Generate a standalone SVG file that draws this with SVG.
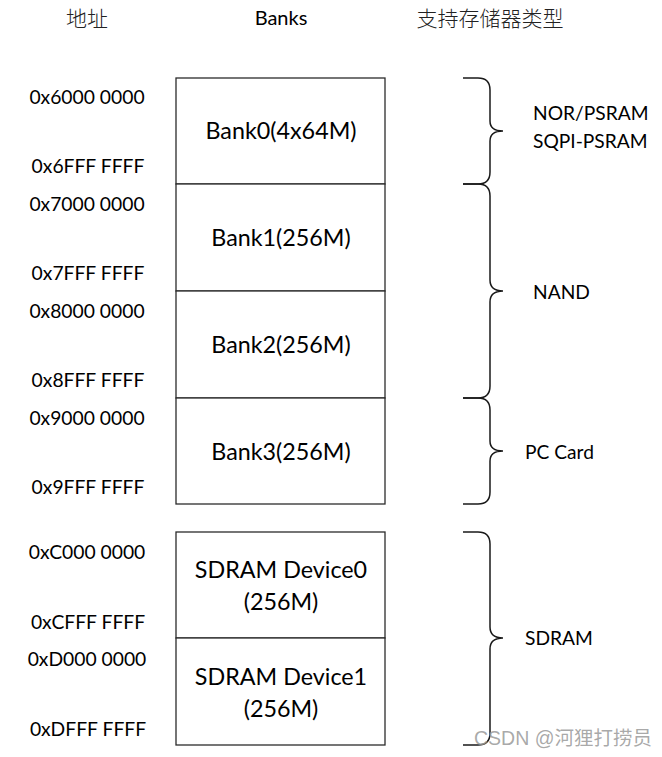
<svg xmlns="http://www.w3.org/2000/svg" width="662" height="757" viewBox="0 0 662 757">
<style>
.bg{fill:#ffffff}
.box{fill:#ffffff;stroke:#2b2b2b;stroke-width:1.3}
.brace{fill:none;stroke:#1a1a1a;stroke-width:1.5}
.addr{font-family:Lato,"Liberation Sans",sans-serif;font-size:19.3px;fill:#000;text-anchor:middle}
.lbl{font-family:Lato,"Liberation Sans",sans-serif;font-size:23.3px;fill:#000;text-anchor:middle}
.typ{font-family:Lato,"Liberation Sans",sans-serif;font-size:19.2px;fill:#000}
.hdr{font-family:Lato,"Liberation Sans",sans-serif;font-size:20px;fill:#000;text-anchor:middle}
.cjk{font-family:"Noto Sans CJK SC",sans-serif;font-size:21px;font-weight:300;fill:#222;text-anchor:middle}
.wm{font-family:"Liberation Sans","Noto Sans CJK SC",sans-serif;font-size:19.5px;fill:#9a9a9a;fill-opacity:0.85}
</style>
<rect class="bg" x="0" y="0" width="662" height="757"/>
<g id="headers">
<text class="cjk" x="87" y="26">地址</text>
<text class="hdr" x="281" y="25">Banks</text>
<text class="cjk" x="490" y="26">支持存储器类型</text>
</g>
<g id="addresses">
<text class="addr" x="87" y="104">0x6000 0000</text>
<text class="addr" x="88" y="173">0x6FFF FFFF</text>
<text class="addr" x="87" y="211">0x7000 0000</text>
<text class="addr" x="88" y="280">0x7FFF FFFF</text>
<text class="addr" x="87" y="318">0x8000 0000</text>
<text class="addr" x="88" y="387">0x8FFF FFFF</text>
<text class="addr" x="87" y="425">0x9000 0000</text>
<text class="addr" x="88" y="494">0x9FFF FFFF</text>
<text class="addr" x="87" y="559">0xC000 0000</text>
<text class="addr" x="88" y="629">0xCFFF FFFF</text>
<text class="addr" x="87" y="666">0xD000 0000</text>
<text class="addr" x="88" y="736">0xDFFF FFFF</text>
</g>
<g id="bank0">
<rect class="box" x="176" y="78" width="209" height="106"/>
<text class="lbl" x="281" y="139">Bank0(4x64M)</text>
</g>
<g id="bank1">
<rect class="box" x="176" y="184" width="209" height="107"/>
<text class="lbl" x="281" y="246">Bank1(256M)</text>
</g>
<g id="bank2">
<rect class="box" x="176" y="291" width="209" height="107"/>
<text class="lbl" x="281" y="353">Bank2(256M)</text>
</g>
<g id="bank3">
<rect class="box" x="176" y="398" width="209" height="106"/>
<text class="lbl" x="281" y="460">Bank3(256M)</text>
</g>
<g id="sdram0">
<rect class="box" x="176" y="532" width="209" height="106"/>
<text class="lbl" x="281" y="578">SDRAM Device0</text>
<text class="lbl" x="281" y="610">(256M)</text>
</g>
<g id="sdram1">
<rect class="box" x="176" y="638" width="209" height="107"/>
<text class="lbl" x="281" y="685">SDRAM Device1</text>
<text class="lbl" x="281" y="717">(256M)</text>
</g>
<g id="connectors">
<path class="brace" d="M463,78 L478,78 Q490,78 490,90 L490,121 Q490,131 503,131 Q490,131 490,141 L490,172 Q490,184 478,184 L463,184"/>
<path class="brace" d="M463,184 L478,184 Q490,184 490,196 L490,280 Q490,291 503,291 Q490,291 490,302 L490,386 Q490,398 478,398 L463,398"/>
<path class="brace" d="M463,398 L478,398 Q490,398 490,410 L490,441 Q490,451 503,451 Q490,451 490,461 L490,492 Q490,504 478,504 L463,504"/>
<path class="brace" d="M463,532 L478,532 Q490,532 490,544 L490,627 Q490,638 503,638 Q490,638 490,649 L490,733 Q490,745 478,745 L463,745"/>
</g>
<g id="types">
<text class="typ" x="533" y="120">NOR/PSRAM</text>
<text class="typ" x="533" y="148">SQPI-PSRAM</text>
<text class="typ" x="533" y="299">NAND</text>
<text class="typ" x="525" y="459">PC Card</text>
<text class="typ" x="525" y="645">SDRAM</text>
</g>
<text class="wm" x="474" y="745">CSDN @河狸打捞员</text>
</svg>
